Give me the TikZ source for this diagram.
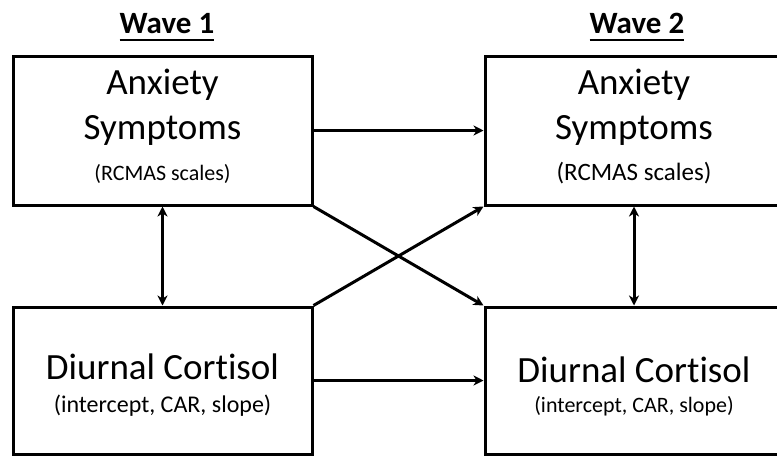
\documentclass[tikz,border=0pt]{standalone}
\usepackage{fontspec}
\setmainfont{Carlito}[Ligatures=NoCommon]
\usetikzlibrary{arrows.meta}

\begin{document}
\begin{tikzpicture}[x=1pt, y=-1pt,
    varbox/.style={draw, line width=3pt, align=center, inner sep=0pt,
      font=\fontsize{37}{45}\selectfont},
    headline/.style={font=\fontsize{31}{37}\selectfont\bfseries, inner sep=0pt, anchor=base},
    underbar/.style={line width=2pt},
    link/.style={line width=3pt, -{Stealth[length=10pt, width=10pt, inset=3pt]}},
    twoway/.style={line width=3pt, {Stealth[length=10pt, width=10pt, inset=3pt]}-{Stealth[length=10pt, width=10pt, inset=3pt]}}]
  \useasboundingbox (0,0) rectangle (777,456);
  \clip (0,0) rectangle (777,456);

  % Wave headings
  \node[headline] (wave1) at (167,33) {Wave 1};
  \node[headline] (wave2) at (637,33) {Wave 2};
  \draw[underbar] ([yshift=-7pt]wave1.base west) -- ([yshift=-7pt]wave1.base east);
  \draw[underbar] ([yshift=-7pt]wave2.base west) -- ([yshift=-7pt]wave2.base east);

  % Wave 1 boxes
  \node[varbox, minimum width=299pt, minimum height=149pt] (anx1) at (162.5,130.5)
    {Anxiety\\Symptoms\\[-4pt]{\fontsize{22}{26}\selectfont (RCMAS scales)\rule[-11pt]{0pt}{0pt}}};
  \node[varbox, minimum width=299pt, minimum height=147pt] (cort1) at (162.5,380.5)
    {\rule{0pt}{34pt}Diurnal Cortisol\\[-12pt]{\fontsize{24}{28}\selectfont (intercept, CAR, slope)}};

  % Wave 2 boxes
  \node[varbox, minimum width=298pt, minimum height=149pt] (anx2) at (634,130.5)
    {Anxiety\\Symptoms\\[-4pt]{\fontsize{25}{29}\selectfont (RCMAS scales)\rule[-12pt]{0pt}{0pt}}};
  \node[varbox, minimum width=298pt, minimum height=147pt] (cort2) at (634,380.5)
    {\rule{0pt}{38pt}Diurnal Cortisol\\[-15pt]{\fontsize{22}{26}\selectfont (intercept, CAR, slope)}};

  % Stability paths
  \draw[link] (anx1.east) -- (anx2.west);
  \draw[link] (cort1.east) -- (cort2.west);

  % Cross-lagged paths
  \draw[link] (anx1.south east) -- (cort2.north west);
  \draw[link] (cort1.north east) -- (anx2.south west);

  % Within-wave links
  \draw[twoway] (anx1.south) -- (cort1.north);
  \draw[twoway] (anx2.south) -- (cort2.north);
\end{tikzpicture}
\end{document}
